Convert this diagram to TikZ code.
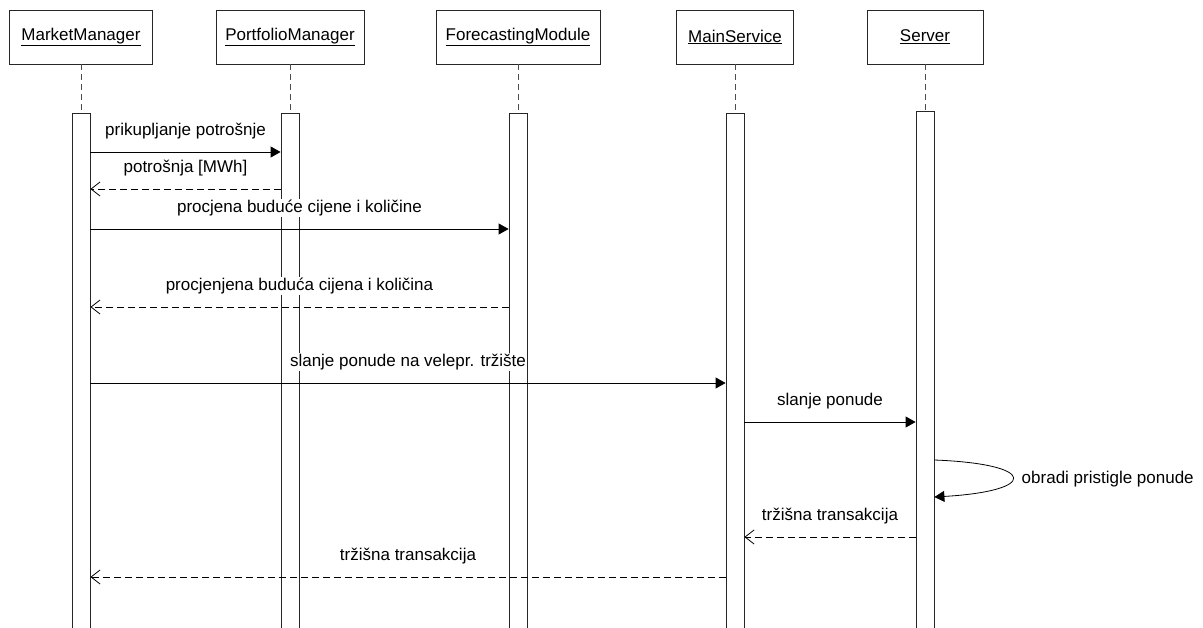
\documentclass[tikz,border=0pt]{standalone}
\usepackage{fontspec}
\setmainfont{Liberation Sans}
\usetikzlibrary{arrows.meta}

\begin{document}
\begin{tikzpicture}[x=1pt,y=-1pt,line width=0.8pt,
  every node/.style={font=\fontsize{17}{20}\selectfont},
  obj/.style={draw=black!85,minimum height=54pt,inner sep=0pt},
  act/.style={draw=black!85,fill=white,minimum width=18pt,minimum height=530pt,anchor=north,inner sep=0pt},
  lifeline/.style={draw=black!70,dash pattern=on 6pt off 4pt},
  call/.style={-{Triangle[length=10pt,width=11pt]}},
  reply/.style={dash pattern=on 7pt off 4pt,-{Straight Barb[length=9pt,width=14pt]}},
  lbl/.style={midway,yshift=21pt,fill=white,inner sep=1pt}]
\useasboundingbox (0,0) rectangle (1203,628);

\node[obj,minimum width=143pt] (mm) at (81,37) {\underline{MarketManager}};
\node[obj,minimum width=148pt] (pm) at (290,37) {\underline{PortfolioManager}};
\node[obj,minimum width=164pt] (fm) at (518,37) {\underline{ForecastingModule}};
\node[obj,minimum width=117pt] (ms) at (735,37) {\underline{MainService}};
\node[obj,minimum width=116pt] (srv) at (925,37) {\underline{Server}};

\foreach \o/\y in {mm/113,pm/113,fm/113,ms/113,srv/111}
  \node[act] (\o-act) at (\o.center |- 0,\y) {};
\foreach \o in {mm,pm,fm,ms,srv}
  \draw[lifeline] (\o) -- (\o-act);

\draw[call] (mm-act.east |- 0,152) -- (pm-act.west |- 0,152) node[lbl] {prikupljanje potrošnje};
\draw[reply] (pm-act.west |- 0,189) -- (mm-act.east |- 0,189) node[lbl] {potrošnja [MWh]};
\draw[call] (mm-act.east |- 0,229) -- (fm-act.west |- 0,229) node[lbl] {procjena buduće cijene i količine};
\draw[reply] (fm-act.west |- 0,307) -- (mm-act.east |- 0,307) node[lbl] {procjenjena buduća cijena i količina};
\draw[call] (mm-act.east |- 0,383) -- (ms-act.west |- 0,383) node[lbl] {slanje ponude na velepr. tržište};
\draw[call] (ms-act.east |- 0,422) -- (srv-act.west |- 0,422) node[lbl] {slanje ponude};
\draw[call] (srv-act.east |- 0,460) .. controls +(104,4) and +(104,-6) .. (srv-act.east |- 0,497);
\node[anchor=west] (selflbl) at (1018,479) {obradi pristigle ponude};
\draw[reply] (srv-act.west |- 0,537) -- (ms-act.east |- 0,537) node[lbl] {tržišna transakcija};
\draw[reply] (ms-act.west |- 0,577) -- (mm-act.east |- 0,577) node[lbl] {tržišna transakcija};
\end{tikzpicture}
\end{document}
